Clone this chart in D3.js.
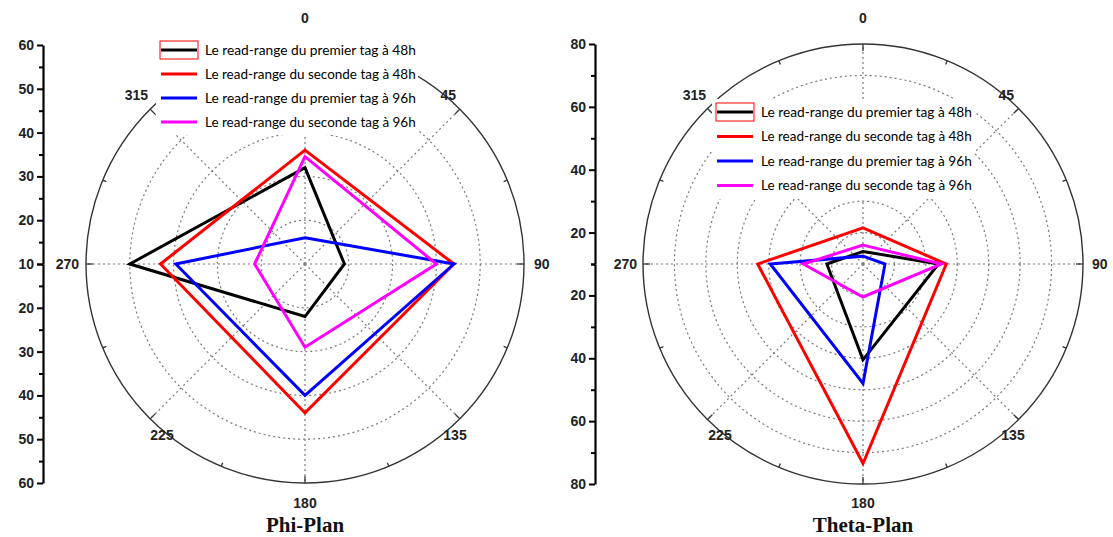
<!DOCTYPE html>
<html><head><meta charset="utf-8">
<script src="https://cdn.jsdelivr.net/npm/d3@7"></script>
<style>body{margin:0;background:#fff}svg{display:block}</style>
</head><body>
<svg id="c" width="1113" height="537"></svg>
<script>
// ---- data ----
const angles = [0, 90, 180, 270];
const angleLabels = ["0", "45", "90", "135", "180", "225", "270", "315"];
const seriesNames = [
  "Le read-range du premier tag à 48h",
  "Le read-range du seconde tag à 48h",
  "Le read-range du premier tag à 96h",
  "Le read-range du seconde tag à 96h"
];
const seriesColors = ["#000000", "#ff0000", "#0000ff", "#ff00ff"];
// Phi-Plan
const phiPremier48 = [32, 19, 22, 50];
const phiSeconde48 = [36, 44, 44, 43];
const phiPremier96 = [16, 44, 40, 39.5];
const phiSeconde96 = [34.5, 40, 29, 21.5];
// Theta-Plan
const thetaPremier48 = [14, 34, 40.5, 21.5];
const thetaSeconde48 = [21.5, 36.5, 73.5, 43.5];
const thetaPremier96 = [12.5, 17, 48, 39.5];
const thetaSeconde96 = [16, 35, 20.5, 29];
// radial axes
const phiMajorTicks = [10, 20, 30, 40, 50, 60];
const phiMinorTicks = [15, 25, 35, 45, 55];
const phiGrid = [20, 30, 40, 50];
const thetaMajorTicks = [20, 40, 60, 80];
const thetaMinorTicks = [10, 30, 50, 70];
const thetaGrid = [20, 30, 40, 50, 60, 70];

const svg = d3.select("#c");

function drawPolar(opt) {
  const {cx, cy, R, min, max, series, grid, major, minor, axisX, title, legend} = opt;
  const g = svg.append("g");
  const r = d3.scaleLinear().domain([min, max]).range([0, R]);
  const pt = (a, rad) => [cx + rad * Math.sin(a * Math.PI / 180), cy - rad * Math.cos(a * Math.PI / 180)];

  // grid circles
  g.selectAll("circle.grid").data(grid).join("circle")
    .attr("cx", cx).attr("cy", cy).attr("r", d => r(d))
    .attr("fill", "none").attr("stroke", "#7a7a7a").attr("stroke-width", 1.2)
    .attr("stroke-dasharray", "2,3");
  // spokes
  const spokeAngles = d3.range(0, 360, 45);
  g.selectAll("line.spoke").data(spokeAngles).join("line")
    .attr("x1", cx).attr("y1", cy)
    .attr("x2", d => pt(d, R)[0]).attr("y2", d => pt(d, R)[1])
    .attr("stroke", "#7a7a7a").attr("stroke-width", 1.2).attr("stroke-dasharray", "2,3");
  // outer circle
  g.append("circle").attr("cx", cx).attr("cy", cy).attr("r", R)
    .attr("fill", "none").attr("stroke", "#333").attr("stroke-width", 1.4);
  // angular ticks
  g.selectAll("line.atick").data(d3.range(0, 360, 22.5)).join("line")
    .attr("x1", d => pt(d, R)[0]).attr("y1", d => pt(d, R)[1])
    .attr("x2", d => pt(d, R - (d % 45 === 0 ? 7 : 4))[0])
    .attr("y2", d => pt(d, R - (d % 45 === 0 ? 7 : 4))[1])
    .attr("stroke", "#333").attr("stroke-width", 1.3);
  // angle labels
  const labelPos = [
    [0, -246, "middle"], [151, -169, "end"], [229, 0, "start"], [150, 171, "middle"],
    [0, 239, "middle"], [-143, 171, "middle"], [-226, 0, "end"], [-157, -169, "end"]
  ];
  g.selectAll("text.alab").data(angleLabels).join("text")
    .attr("x", (d, i) => cx + labelPos[i][0])
    .attr("y", (d, i) => cy + labelPos[i][1])
    .attr("dy", "0.36em")
    .attr("text-anchor", (d, i) => labelPos[i][2])
    .attr("font-family", "Liberation Sans, Arial, sans-serif")
    .attr("font-weight", "bold").attr("font-size", 14).attr("fill", "#222")
    .text(d => d);

  // series polygons
  const line = d3.line().curve(d3.curveLinearClosed);
  series.forEach((vals, i) => {
    const pts = vals.map((v, j) => pt(angles[j], r(v)));
    g.append("path").attr("d", line(pts))
      .attr("fill", "none").attr("stroke", seriesColors[i])
      .attr("stroke-width", 3).attr("stroke-linejoin", "miter");
  });

  // legend
  const lg = g.append("g").attr("transform", `translate(${legend.x},${legend.y})`);
  lg.append("rect").attr("x", -4).attr("y", -13).attr("width", 262).attr("height", legend.dy * 4 + 2)
    .attr("fill", "#fff");
  seriesNames.forEach((name, i) => {
    const y = i * legend.dy;
    if (i === 0) {
      lg.append("rect").attr("x", 0).attr("y", y - 9).attr("width", 38).attr("height", 18)
        .attr("fill", "none").attr("stroke", "#ff0000").attr("stroke-width", 1);
    }
    lg.append("line").attr("x1", 1).attr("x2", 37).attr("y1", y).attr("y2", y)
      .attr("stroke", seriesColors[i]).attr("stroke-width", 3);
    const t = lg.append("text").attr("x", 45).attr("y", y).attr("dy", "0.35em")
      .attr("font-family", "Lato, Open Sans, sans-serif").attr("font-size", 16)
      .attr("fill", "#000").text(name);
    const w = t.node().getComputedTextLength();
    t.attr("font-size", Math.min(17, 16 * 211 / w));
  });

  // vertical radial axis (mirrored)
  const yTop = d3.scaleLinear().domain([min, max]).range([cy, cy - R]);
  const yBot = d3.scaleLinear().domain([min, max]).range([cy, cy + R]);
  [yTop, yBot].forEach((ys, k) => {
    const ax = g.append("g").attr("transform", `translate(${axisX},0)`);
    ax.call(d3.axisLeft(ys).tickValues(major).tickSize(6).tickSizeOuter(0)
      .tickFormat(d => (k === 1 && d === min) ? "" : d));
    ax.select(".domain").attr("stroke", "#000").attr("stroke-width", 2.2);
    ax.selectAll(".tick line").attr("stroke", "#000").attr("stroke-width", 2);
    ax.selectAll(".tick text").attr("font-family", "Liberation Sans, Arial, sans-serif")
      .attr("font-weight", "bold").attr("font-size", 14).attr("fill", "#222").attr("x", -9);
    const mn = g.append("g").attr("transform", `translate(${axisX},0)`);
    mn.call(d3.axisLeft(ys).tickValues(minor).tickSize(4).tickFormat(""));
    mn.select(".domain").remove();
    mn.selectAll(".tick line").attr("stroke", "#000").attr("stroke-width", 2);
  });

  // title
  g.append("text").attr("x", cx).attr("y", 532).attr("text-anchor", "middle")
    .attr("font-family", "Liberation Serif, Times New Roman, serif").attr("font-weight", "bold")
    .attr("font-size", 21).attr("fill", "#111").text(title);
}

drawPolar({
  cx: 305, cy: 264, R: 219, min: 10, max: 60,
  series: [phiPremier48, phiSeconde48, phiPremier96, phiSeconde96],
  grid: phiGrid, major: phiMajorTicks, minor: phiMinorTicks, axisX: 43,
  title: "Phi-Plan", legend: {x: 160, y: 50, dy: 24}
});
drawPolar({
  cx: 863, cy: 264, R: 220, min: 10, max: 80,
  series: [thetaPremier48, thetaSeconde48, thetaPremier96, thetaSeconde96],
  grid: thetaGrid, major: thetaMajorTicks, minor: thetaMinorTicks, axisX: 595,
  title: "Theta-Plan", legend: {x: 716, y: 112, dy: 24.5}
});
</script>
</body></html>
